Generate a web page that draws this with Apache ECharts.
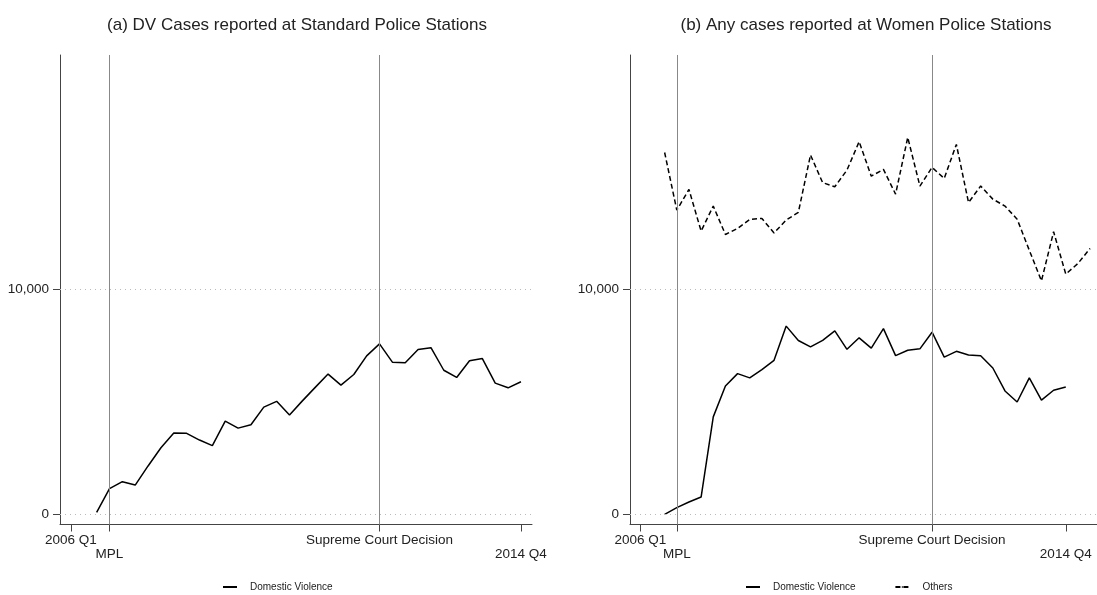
<!DOCTYPE html>
<html>
<head>
<meta charset="utf-8">
<script src="https://cdn.jsdelivr.net/npm/echarts@6/dist/echarts.min.js"></script>
<style>
  html, body { margin: 0; padding: 0; background: #fff; }
  #chart { width: 1097px; height: 595px; }
</style>
</head>
<body>
<div id="chart"></div>
<script>
// Quarter labels, index 0 = 2006 Q1
const quarters = [
  '2006 Q1','2006 Q2','2006 Q3','2006 Q4','2007 Q1','2007 Q2','2007 Q3','2007 Q4',
  '2008 Q1','2008 Q2','2008 Q3','2008 Q4','2009 Q1','2009 Q2','2009 Q3','2009 Q4',
  '2010 Q1','2010 Q2','2010 Q3','2010 Q4','2011 Q1','2011 Q2','2011 Q3','2011 Q4',
  '2012 Q1','2012 Q2','2012 Q3','2012 Q4','2013 Q1','2013 Q2','2013 Q3','2013 Q4',
  '2014 Q1','2014 Q2','2014 Q3','2014 Q4','2015 Q1','2015 Q2'
];

// Event markers (quarter index) and their axis labels
const eventIdx = { mpl: 3, court: 24 };
const xTickValues = [0, 3, 24, 35];
const xUpperLabels = { 0: '2006 Q1', 24: 'Supreme Court Decision' };
const xLowerLabels = { 3: 'MPL', 35: '2014 Q4' };
const yTickValues = [0, 10000];

// (a) DV cases at standard police stations
const dvStandard = [
  null, null, 90, 1140, 1450, 1300, 2150, 2960, 3610, 3600, 3300, 3050,
  4140, 3830, 3980, 4760, 5020, 4410, 5040, 5640, 6230, 5740, 6210, 7040,
  7570, 6760, 6730, 7320, 7400, 6400, 6080, 6820, 6920, 5830, 5620, 5890
];

// (b) cases at women police stations
const dvWomen = [
  null, null, 0, 300, 550, 770, 4330, 5700, 6250, 6060, 6430, 6840,
  8360, 7720, 7440, 7730, 8150, 7330, 7840, 7380, 8250, 7050, 7290, 7350,
  8090, 6980, 7240, 7080, 7040, 6500, 5480, 4990, 6060, 5070, 5510, 5660
];
const othersWomen = [
  null, null, 16070, 13510, 14430, 12580, 13690, 12430, 12700, 13100, 13140, 12500,
  13070, 13410, 15960, 14730, 14550, 15290, 16550, 15020, 15320, 14220, 16740, 14580,
  15410, 14920, 16430, 13850, 14580, 14000, 13690, 13110, 11730, 10370, 12550, 10670,
  11140, 11810
];

const toPairs = arr => arr.map((v, i) => [i, v]);

const FONT = 'Liberation Sans, Arial, sans-serif';
const TXT = '#222';
const TICK_FONT = 13.5;

// Main bottom axis: line, all ticks, first row of labels
function xAxisMain(gridIndex, max) {
  const vals = Object.keys(xUpperLabels).map(Number);
  return {
    type: 'value', gridIndex, min: -0.85, max,
    axisLine: { show: true, onZero: false, lineStyle: { color: '#444', width: 1 } },
    axisTick: { show: true, length: 7, customValues: xTickValues, lineStyle: { color: '#444' } },
    axisLabel: {
      show: true, customValues: vals, margin: 9,
      showMinLabel: true, showMaxLabel: true, hideOverlap: false,
      fontFamily: FONT, fontSize: TICK_FONT, color: TXT,
      formatter: v => xUpperLabels[Math.round(v)] || ''
    },
    splitLine: { show: false }
  };
}
// Companion axis in the same grid carrying the second row of labels
function xAxisLower(gridIndex, max) {
  const vals = Object.keys(xLowerLabels).map(Number);
  return {
    type: 'value', gridIndex, min: -0.85, max, position: 'bottom',
    axisLine: { show: false, onZero: false },
    axisTick: { show: false },
    axisLabel: {
      show: true, customValues: vals, margin: 23,
      showMinLabel: true, showMaxLabel: true, hideOverlap: false,
      fontFamily: FONT, fontSize: TICK_FONT, color: TXT,
      formatter: v => xLowerLabels[Math.round(v)] || ''
    },
    splitLine: { show: false }
  };
}
function yAxisFor(gridIndex) {
  return {
    type: 'value', gridIndex, min: -450, max: 20400,
    axisLine: { show: true, onZero: false, lineStyle: { color: '#444', width: 1 } },
    axisTick: { show: true, length: 7, customValues: yTickValues, lineStyle: { color: '#444' } },
    axisLabel: {
      show: true, customValues: yTickValues, margin: 11,
      showMinLabel: true, showMaxLabel: true,
      fontFamily: FONT, fontSize: TICK_FONT, color: TXT,
      formatter: v => v.toLocaleString('en-US')
    },
    splitLine: { show: false }
  };
}

// Vertical event lines plus dotted reference lines at the labelled y ticks
function refLines() {
  return {
    silent: true, symbol: ['none', 'none'], label: { show: false },
    animation: false,
    data: [
      { xAxis: eventIdx.mpl, lineStyle: { color: '#888', width: 1, type: 'solid' } },
      { xAxis: eventIdx.court, lineStyle: { color: '#888', width: 1, type: 'solid' } },
      ...yTickValues.map(v => ({ yAxis: v, lineStyle: { color: '#bbb', width: 1, type: [1, 4] } }))
    ]
  };
}

const legendText = { fontFamily: FONT, fontSize: 10, color: TXT, padding: [0, 0, 0, 8] };

const chart = echarts.init(document.getElementById('chart'), null, { renderer: 'canvas' });
chart.setOption({
  animation: false,
  backgroundColor: '#fff',
  title: [
    { text: '(a) DV Cases reported at Standard Police Stations', left: 292, top: 12, textAlign: 'center',
      textStyle: { fontFamily: FONT, fontSize: 17, fontWeight: 'normal', color: TXT } },
    { text: '(b) Any cases reported at Women Police Stations', left: 861, top: 12, textAlign: 'center',
      textStyle: { fontFamily: FONT, fontSize: 17, fontWeight: 'normal', color: TXT } }
  ],
  grid: [
    { left: 60, top: 55, width: 472, height: 469.5 },
    { left: 630, top: 55, width: 467, height: 469.5 }
  ],
  xAxis: [xAxisMain(0, 35.86), xAxisMain(1, 37.57), xAxisLower(0, 35.86), xAxisLower(1, 37.57)],
  yAxis: [yAxisFor(0), yAxisFor(1)],
  legend: [
    { data: ['Domestic Violence'], left: 222, top: 582, padding: 0, itemWidth: 14, itemHeight: 2,
      textStyle: legendText },
    { data: ['Domestic Violence ', 'Others'], left: 745, top: 582, padding: 0, itemWidth: 14, itemHeight: 2,
      itemGap: 36, textStyle: legendText }
  ],
  series: [
    { name: 'Domestic Violence', type: 'line', xAxisIndex: 0, yAxisIndex: 0,
      data: toPairs(dvStandard), showSymbol: false, symbol: 'none',
      lineStyle: { color: '#000', width: 1.5 }, itemStyle: { color: '#000' },
      markLine: refLines() },
    { name: 'Domestic Violence ', type: 'line', xAxisIndex: 1, yAxisIndex: 1,
      data: toPairs(dvWomen), showSymbol: false, symbol: 'none',
      lineStyle: { color: '#000', width: 1.5 }, itemStyle: { color: '#000' },
      markLine: refLines() },
    { name: 'Others', type: 'line', xAxisIndex: 1, yAxisIndex: 1,
      data: toPairs(othersWomen), showSymbol: false, symbol: 'none',
      lineStyle: { color: '#000', width: 1.5, type: [5, 3] }, itemStyle: { color: '#000' } }
  ]
});
</script>
</body>
</html>
